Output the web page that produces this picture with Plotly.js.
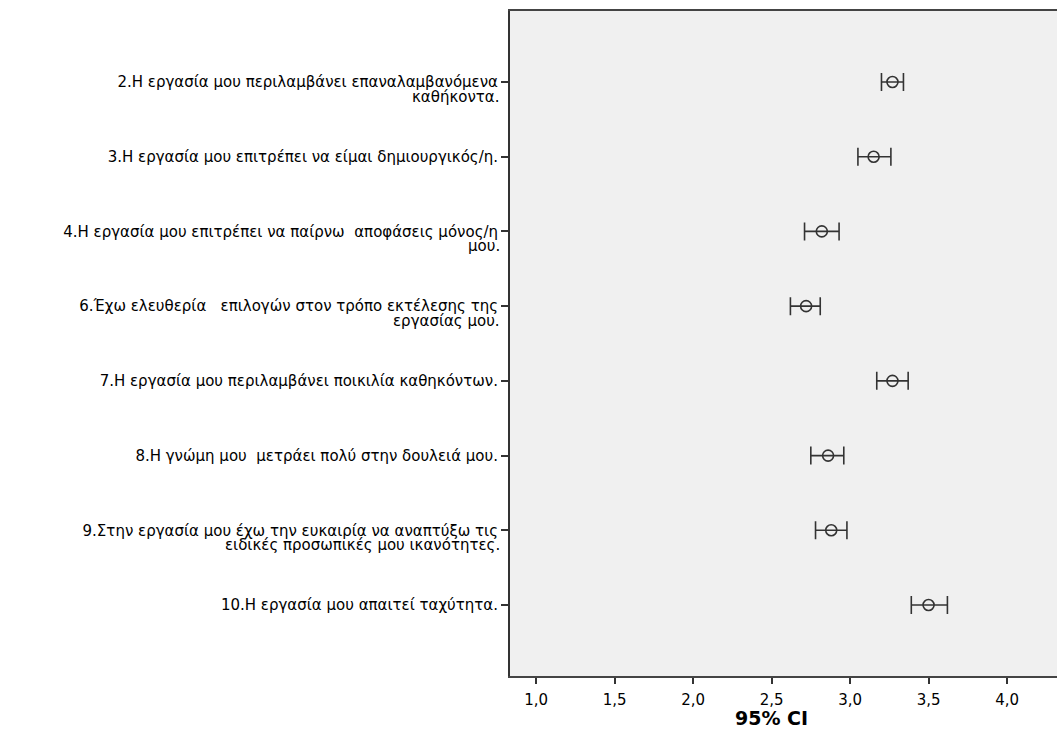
<!DOCTYPE html>
<html>
<head>
<meta charset="utf-8">
<script src="https://cdn.plot.ly/plotly-3.0.1.min.js"></script>
<style>html,body{margin:0;padding:0;background:#fff;}#chart{width:1057px;height:743px;}</style>
</head>
<body>
<div id="chart"></div>
<script>
// Item labels: first line and (optional) second line
const labelLine1 = [
  "2.Η εργασία μου περιλαμβάνει επαναλαμβανόμενα",
  "3.Η εργασία μου επιτρέπει να είμαι δημιουργικός/η.",
  "4.Η εργασία μου επιτρέπει να παίρνω  αποφάσεις μόνος/η",
  "6.Έχω ελευθερία   επιλογών στον τρόπο εκτέλεσης της",
  "7.Η εργασία μου περιλαμβάνει ποικιλία καθηκόντων.",
  "8.Η γνώμη μου  μετράει πολύ στην δουλειά μου.",
  "9.Στην εργασία μου έχω την ευκαιρία να αναπτύξω τις",
  "10.Η εργασία μου απαιτεί ταχύτητα."
];
const labelLine2 = [
  "καθήκοντα.",
  "",
  "μου.",
  "εργασίας μου.",
  "",
  "",
  "ειδικές προσωπικές μου ικανότητες.",
  ""
];
// Means and 95% CI bounds
const means = [3.27, 3.15, 2.82, 2.72, 3.27, 2.86, 2.88, 3.50];
const lower = [3.20, 3.05, 2.71, 2.62, 3.17, 2.75, 2.78, 3.39];
const upper = [3.34, 3.26, 2.93, 2.81, 3.37, 2.96, 2.98, 3.62];
const xTickVals = [1.0, 1.5, 2.0, 2.5, 3.0, 3.5, 4.0];
const xTickText = ["1,0", "1,5", "2,0", "2,5", "3,0", "3,5", "4,0"];
const xTitle = "95% CI";

const FONT = "DejaVu Sans, Arial, sans-serif";

const trace = {
  type: "scatter",
  mode: "markers",
  x: means,
  y: labelLine1,
  marker: {symbol: "circle-open", size: 11, color: "#333", line: {width: 1.6, color: "#333"}},
  error_x: {
    type: "data",
    symmetric: false,
    array: upper.map((u, i) => u - means[i]),
    arrayminus: lower.map((l, i) => means[i] - l),
    color: "#333",
    thickness: 1.6,
    width: 9
  },
  hoverinfo: "x+y",
  showlegend: false
};

const annotations = [];
labelLine2.forEach((t, i) => {
  if (t) {
    annotations.push({
      xref: "paper", yref: "y", x: 0, y: labelLine1[i],
      xanchor: "right", yanchor: "middle", xshift: -8, yshift: -15,
      text: t, showarrow: false,
      font: {family: FONT, size: 15, color: "#000"}
    });
  }
});
annotations.push({
  xref: "x", yref: "paper", x: 2.5, y: 0, yanchor: "middle", yshift: -42,
  text: "<b>" + xTitle + "</b>", showarrow: false,
  font: {family: FONT, size: 19, color: "#000"}
});

const layout = {
  width: 1057, height: 743,
  margin: {l: 510, r: 0, t: 11, b: 67},
  paper_bgcolor: "#ffffff",
  plot_bgcolor: "#f0f0f0",
  font: {family: FONT, size: 15, color: "#000"},
  xaxis: {
    range: [0.834, 4.318],
    tickvals: xTickVals, ticktext: xTickText,
    ticks: "outside", ticklen: 6, tickwidth: 2, tickcolor: "#333",
    ticklabelstandoff: 3,
    showgrid: false, zeroline: false,
    showline: true, linecolor: "#444", linewidth: 2, mirror: true,
    tickfont: {family: FONT, size: 15, color: "#000"}
  },
  yaxis: {
    type: "category",
    categoryorder: "array", categoryarray: labelLine1,
    range: [7.95, -0.95],
    ticks: "outside", ticklen: 7, tickwidth: 2, tickcolor: "#333",
    showgrid: false, zeroline: false,
    showline: true, linecolor: "#333", linewidth: 2,
    tickfont: {family: FONT, size: 15, color: "#000"}
  },
  annotations: annotations
};

Plotly.newPlot("chart", [trace], layout, {displayModeBar: false, staticPlot: true});
</script>
</body>
</html>
